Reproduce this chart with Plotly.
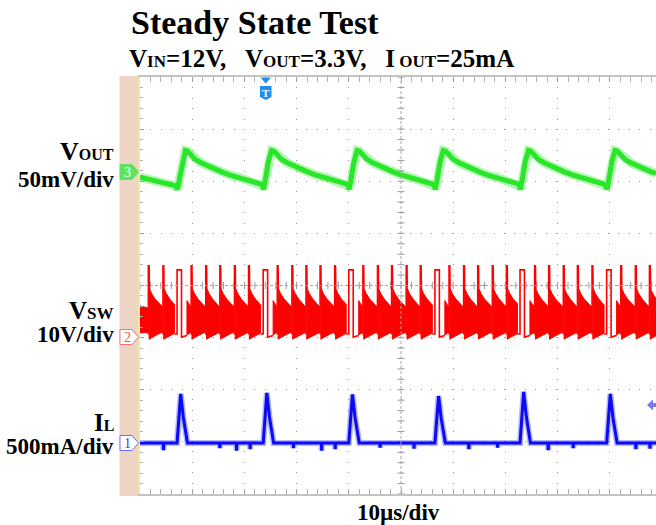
import numpy as np
import plotly.graph_objects as go

# ---------------- data (read from the scope shot) ----------------
# time axis: microseconds, 10 us/div, screen centre = 0
X_RANGE_US = [-50.0, 48.85]

# switching events (high-side pulses) and ringing spikes, us
SWITCH_PULSE_US = [-42.9, -26.4, -10.0, 6.5, 22.8, 39.4]
RING_SPIKE_US = [-48.4, -45.6,
                 -40.2, -37.4, -34.7, -31.9, -29.2,
                 -23.7, -20.9, -18.2, -15.5, -12.7,
                 -7.3, -4.5, -1.8, 1.0, 3.7,
                 9.2, 12.0, 14.7, 17.5, 20.2,
                 25.6, 28.3, 31.1, 33.8, 36.6,
                 42.1, 44.9, 47.6]

# VOUT ripple (mV, AC) : lead-in and the shape following each pulse
VOUT_LEAD_US = [-50.0, -46.5, -43.1]
VOUT_LEAD_MV = [-5.0, -9.5, -13.5]
VOUT_SHAPE_DT = [-0.1, 0.05, 0.4, 1.0, 1.6, 2.0, 2.6, 3.5, 4.5, 5.7, 7.0, 8.5, 10.0, 12.0, 14.0, 15.9]
VOUT_SHAPE_MV = [-13.5, -17.0, -8.0, 10.0, 20.5, 20.0, 17.0, 12.0, 9.0, 6.0, 3.0, 0.0, -2.8, -5.5, -8.5, -11.5]

# inductor current (mA)
IL_PEAK_MA = [470, 480, 465, 450, 490, 470]
IL_SHAPE_DT = [0.0, 0.25, 0.45, 0.7, 1.2, 1.8, 2.0]
IL_SHAPE_FRAC = [0.0, 0.42, 0.55, 1.0, 0.52, 0.05, 0.0]
IL_GLITCH_US = [-45.5, -34.7, -31.5, -28.9, -20.6, -15.2, -12.6, -4.0, 2.5, 13.0, 18.5, 28.2, 33.0, 45.0, 47.7]
IL_GLITCH_MA = [-70, -50, -75, -60, -50, -75, -60, -45, -55, -60, -45, -70, -50, -60, -55]

# switch node (V)
PULSE_HIGH_V = 12.9
PULSE_WIDTH_US = 0.85
PULSE_LOW_END_US = 1.9
SPIKE_V = 13.7
RING_DT = [0.15, 0.6, 1.3, 2.0, 2.6]
RING_TOP_V = [9.5, 8.4, 7.3, 6.5, 5.8]
RING_BOT_DT = [0.15, 1.3, 2.6]
RING_BOT_V = [-0.4, 0.3, 0.9]
POST_PULSE_TOP_V = [7.0, 5.8]
POST_PULSE_BOT_V = [0.4, 0.9]

# channel offsets / scales (div from centre, units per div)
CH3_OFFSET_DIV, CH3_SCALE = 2.18, 50.0    # mV/div
CH2_OFFSET_DIV, CH2_SCALE = -0.99, 10.0   # V/div
CH1_OFFSET_DIV, CH1_SCALE = -3.02, 500.0  # mA/div

GREEN = "#2BE52B"
RED = "#FF0000"
BLUE = "#0A0AF5"
SERIF = "Liberation Serif, Times New Roman, serif"

# ---------------- build series ----------------
x_end = X_RANGE_US[1]

# VOUT
vx, vy = list(VOUT_LEAD_US), list(VOUT_LEAD_MV)
for p in SWITCH_PULSE_US:
    for dt, mv in zip(VOUT_SHAPE_DT, VOUT_SHAPE_MV):
        if dt < 0 and p == SWITCH_PULSE_US[0]:
            continue
        if p + dt <= x_end:
            vx.append(p + dt); vy.append(mv)
vx.append(x_end); vy.append(-1.5)

# IL (pulses + baseline glitches)
pts = [(X_RANGE_US[0], 0.0), (x_end, 0.0)]
for p, pk in zip(SWITCH_PULSE_US, IL_PEAK_MA):
    for dt, fr in zip(IL_SHAPE_DT, IL_SHAPE_FRAC):
        pts.append((p + dt, pk * fr))
for g, ma in zip(IL_GLITCH_US, IL_GLITCH_MA):
    pts += [(g - 0.06, 0.0), (g, ma), (g + 0.06, 0.0)]
pts.sort()
ix = [a for a, b in pts]
iy = [b for a, b in pts]

# VSW band polygons
events = sorted([(t, "s") for t in RING_SPIKE_US] + [(t, "p") for t in SWITCH_PULSE_US])
bx, by = [], []

def add_band(t0, dts_top, top, dts_bot, bot):
    xs = [t0 + d for d in dts_top] + [t0 + d for d in dts_bot][::-1]
    ys = list(top) + list(bot)[::-1]
    bx.extend(xs + [xs[0], None]); by.extend(ys + [ys[0], None])

add_band(X_RANGE_US[0], [0.0, 1.45], [6.0, 5.6], [0.0, 1.45], [0.8, 0.9])
for k, (t, kind) in enumerate(events):
    nxt = events[k + 1] if k + 1 < len(events) else (x_end + 0.2, "s")
    end = nxt[0] - (0.5 if nxt[1] == "p" else 0.1)
    if kind == "s":
        dts = [d for d in RING_DT if t + d < end] + [end - t]
        top = np.interp(dts, RING_DT, RING_TOP_V)
        bot = np.interp(dts, RING_BOT_DT, RING_BOT_V)
        add_band(t, dts, top, dts, bot)
    else:
        add_band(t, [PULSE_LOW_END_US, end - t], POST_PULSE_TOP_V,
                 [PULSE_LOW_END_US, end - t], POST_PULSE_BOT_V)

# VSW edges (spikes and pulses)
ex, ey = [], []
for s in RING_SPIKE_US:
    ex += [s, s, s + 0.15, s + 0.2, None]
    ey += [0.5, SPIKE_V, SPIKE_V, RING_TOP_V[0], None]
for p in SWITCH_PULSE_US:
    ex += [p - 0.5, p, p, p + PULSE_WIDTH_US, p + PULSE_WIDTH_US, p + PULSE_LOW_END_US, None]
    ey += [0.6, 0.6, PULSE_HIGH_V, PULSE_HIGH_V, 0.0, 0.3, None]

# ---------------- figure ----------------
fig = go.Figure()

def rng(offset, scale):
    return [(-4 - offset) * scale, (4 - offset) * scale]

fig.add_trace(go.Scatter(x=bx, y=by, mode="lines", fill="toself", fillcolor=RED,
                         line=dict(color=RED, width=1), yaxis="y3", hoverinfo="skip"))
fig.add_trace(go.Scatter(x=ex, y=ey, mode="lines", line=dict(color=RED, width=1.6),
                         yaxis="y3", hoverinfo="skip"))
fig.add_trace(go.Scatter(x=vx, y=vy, mode="lines", line=dict(color=GREEN, width=9),
                         opacity=0.35, yaxis="y2", hoverinfo="skip"))
fig.add_trace(go.Scatter(x=vx, y=vy, mode="lines", line=dict(color=GREEN, width=5),
                         yaxis="y2", hoverinfo="skip"))
fig.add_trace(go.Scatter(x=ix, y=iy, mode="lines", line=dict(color=BLUE, width=6),
                         opacity=0.3, yaxis="y4", hoverinfo="skip"))
fig.add_trace(go.Scatter(x=ix, y=iy, mode="lines", line=dict(color=BLUE, width=3),
                         yaxis="y4", hoverinfo="skip"))

# centre-line tick marks
cx = np.arange(-50, 49, 2.0)
fig.add_trace(go.Scatter(x=cx, y=np.zeros_like(cx), mode="markers",
                         marker=dict(symbol="line-ns", size=5, line=dict(color="#9A9A9A", width=1)),
                         hoverinfo="skip"))
cy = np.arange(-4, 4.01, 0.2)
fig.add_trace(go.Scatter(x=np.zeros_like(cy), y=cy, mode="markers",
                         marker=dict(symbol="line-ew", size=5, line=dict(color="#9A9A9A", width=1)),
                         hoverinfo="skip"))

W, H = 656, 525
L, R, T, B = 140, 0, 77, 31
PW, PH = W - L - R, H - T - B

def px(x):
    return (x - L) / PW

def py(y):
    return (H - B - y) / PH

shapes = []
shapes.append(dict(type="rect", xref="paper", yref="paper", x0=px(119.5), x1=px(139.2),
                   y0=py(496), y1=py(76), fillcolor="#EDD4C4", line=dict(width=0), layer="below"))
shapes.append(dict(type="line", xref="x", yref="y", x0=X_RANGE_US[0], x1=x_end, y0=0, y1=0,
                   line=dict(color="#A8A8A8", width=1, dash="3px,2px")))
shapes.append(dict(type="line", xref="x", yref="y", x0=0, x1=0, y0=-4, y1=4,
                   line=dict(color="#A8A8A8", width=1, dash="3px,2px")))

def path(points):
    return "M " + " L ".join(f"{px(a):.5f},{py(b):.5f}" for a, b in points) + " Z"

tags = [
    (172, "3", "#5FE35F", "#5FE35F", "white"),
    (337, "2", "white", "#FF7070", "#FF5050"),
    (443, "1", "white", "#7070FF", "#4040F0"),
]
for yc, label, fill, edge, tc in tags:
    shapes.append(dict(type="path", xref="paper", yref="paper",
                       path=path([(120, yc - 7.5), (132, yc - 7.5), (138.5, yc), (132, yc + 7.5), (120, yc + 7.5)]),
                       fillcolor=fill, line=dict(color=edge, width=1)))

shapes.append(dict(type="path", xref="paper", yref="paper",
                   path=path([(260.5, 77.5), (271, 77.5), (265.7, 83.5)]),
                   fillcolor="#1E8FEA", line=dict(width=0)))
shapes.append(dict(type="path", xref="paper", yref="paper",
                   path=path([(260, 86), (271.5, 86), (271.5, 97), (265.7, 100), (260, 97)]),
                   fillcolor="#1E8FEA", line=dict(width=0)))
shapes.append(dict(type="path", xref="paper", yref="paper",
                   path=path([(647, 405), (653, 399.5), (653, 403), (656, 403), (656, 407), (653, 407), (653, 410.5)]),
                   fillcolor="#7A7AF0", line=dict(width=0)))

ann = []
def text(x, y, s, size, xanchor="left", yanchor="middle", color="black"):
    ann.append(dict(xref="paper", yref="paper", x=px(x), y=py(y), text=s, showarrow=False,
                    xanchor=xanchor, yanchor=yanchor,
                    font=dict(family=SERIF, size=size, color=color)))

for yc, label, fill, edge, tc in tags:
    text(127.5, yc + 0.5, label, 14, xanchor="center", color=tc)
text(265.7, 92.5, "<b>T</b>", 11, xanchor="center", color="white")

text(129, 23, "<b>Steady State Test</b>", 34)
def sub(s, size=17):
    return f"<span style='font-size:{size}px'>{s}</span>"
text(127, 58, "<b>V" + sub("IN") + "=12V,\u00a0\u00a0\u00a0V" + sub("OUT") + "=3.3V,\u00a0\u00a0\u00a0I" + sub("\u00a0OUT") + "=25mA</b>", 25)

text(116, 151, "<b>V" + sub("OUT", 16) + "</b>", 26, xanchor="right")
text(116, 179, "<b>50mV/div</b>", 23, xanchor="right")
text(116, 310, "<b>V" + sub("SW", 17) + "</b>", 25, xanchor="right")
text(116, 335, "<b>10V/div</b>", 23, xanchor="right")
text(116, 422, "<b>I" + sub("L", 16) + "</b>", 25, xanchor="right")
text(116, 446, "<b>500mA/div</b>", 23, xanchor="right")
text(398, 512, "<b>10\u00b5s/div</b>", 23, xanchor="center")

grid_dash = "1px,9.4px"
fig.update_layout(
    width=W, height=H,
    margin=dict(l=L, r=R, t=T, b=B, pad=0),
    paper_bgcolor="white", plot_bgcolor="white",
    showlegend=False,
    shapes=shapes, annotations=ann,
    xaxis=dict(range=X_RANGE_US, dtick=10, tick0=0, showgrid=True, gridcolor="#9A9A9A",
               griddash=grid_dash, gridwidth=1, zeroline=False, showticklabels=False,
               ticks="inside", ticklen=5, tickcolor="#A0A0A0",
               minor=dict(dtick=2, ticks="inside", ticklen=3, tickcolor="#B0B0B0", showgrid=False),
               showline=True, linecolor="#C4C4C4", linewidth=2, mirror="allticks", fixedrange=True),
    yaxis=dict(range=[-4, 4], dtick=1, tick0=0, showgrid=True, gridcolor="#9A9A9A",
               griddash=grid_dash, gridwidth=1, zeroline=False, showticklabels=False,
               ticks="inside", ticklen=4, tickcolor="#A0A0A0",
               minor=dict(dtick=0.2, ticks="inside", ticklen=3, tickcolor="#B0B0B0", showgrid=False),
               showline=True, linecolor="#EFE6A6", linewidth=2, mirror=False, fixedrange=True),
    yaxis2=dict(range=rng(CH3_OFFSET_DIV, CH3_SCALE), overlaying="y", visible=False, fixedrange=True),
    yaxis3=dict(range=rng(CH2_OFFSET_DIV, CH2_SCALE), overlaying="y", visible=False, fixedrange=True),
    yaxis4=dict(range=rng(CH1_OFFSET_DIV, CH1_SCALE), overlaying="y", visible=False, fixedrange=True),
)

fig.write_html("out.html", config=dict(displayModeBar=False, staticPlot=True))

with open("out.html", "r", encoding="utf-8") as f:
    html = f.read()
html = html.replace("<body>", "<body style=\"margin:0;padding:0;overflow:hidden\">", 1)
with open("out.html", "w", encoding="utf-8") as f:
    f.write(html)
